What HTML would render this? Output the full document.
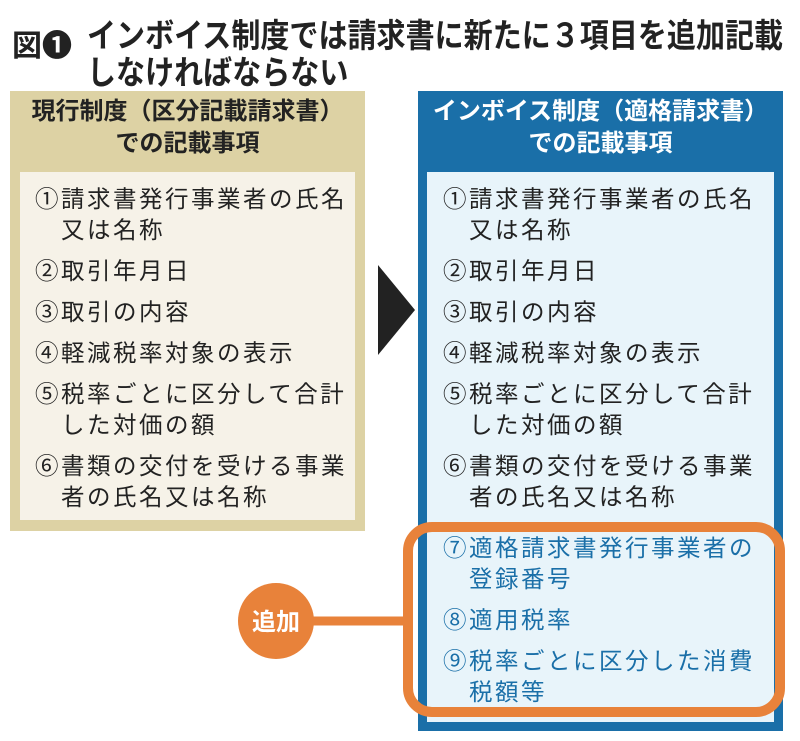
<!DOCTYPE html>
<html><head><meta charset="utf-8"><style>
body{margin:0;width:800px;height:741px;background:#fff;position:relative;overflow:hidden;font-family:"Liberation Sans","Noto Sans CJK JP",sans-serif;}
.a{position:absolute;}
.t{font-weight:bold;font-size:33px;color:#222;line-height:37px;white-space:nowrap;}
.hd{font-weight:bold;font-size:24px;line-height:32px;text-align:center;white-space:nowrap;}
.it{font-size:23.5px;line-height:31px;color:#222;letter-spacing:2.5px;white-space:nowrap;}
.it div{margin-bottom:10px;}
.it span{display:inline-block;padding-left:26px;}
</style></head><body>
<div class="a t" style="left:12px;top:28px;font-size:30px;">図❶</div>
<div class="a t" style="left:87px;top:17px;transform:scaleX(0.88);transform-origin:0 0;">インボイス制度では請求書に新たに３項目を追加記載<br>しなければならない</div>

<div class="a" style="left:10px;top:91px;width:355px;height:440px;background:#ddd2a4;"></div>
<div class="a hd" style="left:10px;top:96px;width:355px;color:#222;">現行制度（区分記載請求書）<br>での記載事項</div>
<div class="a" style="left:20px;top:172px;width:335px;height:348px;background:#f6f2e8;"></div>
<div class="a it" style="left:35px;top:184px;">
<div>①請求書発行事業者の氏名<br><span>又は名称</span></div>
<div>②取引年月日</div>
<div>③取引の内容</div>
<div>④軽減税率対象の表示</div>
<div>⑤税率ごとに区分して合計<br><span>した対価の額</span></div>
<div>⑥書類の交付を受ける事業<br><span>者の氏名又は名称</span></div>
</div>

<svg class="a" style="left:0;top:0" width="800" height="741">
<polygon points="378,265 415,310 378,355" fill="#222"/>
</svg>

<div class="a" style="left:418px;top:91px;width:365px;height:640px;background:#1a6fa8;"></div>
<div class="a hd" style="left:418px;top:96px;width:365px;color:#fff;">インボイス制度（適格請求書）<br>での記載事項</div>
<div class="a" style="left:427px;top:172px;width:347px;height:550px;background:#e8f4fa;"></div>
<div class="a it" style="left:443px;top:184px;">
<div>①請求書発行事業者の氏名<br><span>又は名称</span></div>
<div>②取引年月日</div>
<div>③取引の内容</div>
<div>④軽減税率対象の表示</div>
<div>⑤税率ごとに区分して合計<br><span>した対価の額</span></div>
<div>⑥書類の交付を受ける事業<br><span>者の氏名又は名称</span></div>
<div style="color:#1a6fa8;margin-top:20px;">⑦適格請求書発行事業者の<br><span>登録番号</span></div>
<div style="color:#1a6fa8;">⑧適用税率</div>
<div style="color:#1a6fa8;">⑨税率ごとに区分した消費<br><span>税額等</span></div>
</div>

<svg class="a" style="left:0;top:0" width="800" height="741">
<rect x="408" y="527" width="372" height="185" rx="24" fill="none" stroke="#e8823a" stroke-width="10"/>
<line x1="300" y1="621" x2="408" y2="621" stroke="#e8823a" stroke-width="9"/>
<circle cx="276" cy="621" r="38" fill="#e8823a"/>
<text x="276" y="630" text-anchor="middle" font-size="24" font-weight="bold" fill="#fff" font-family="Liberation Sans, Noto Sans CJK JP, sans-serif">追加</text>
</svg>
</body></html>
